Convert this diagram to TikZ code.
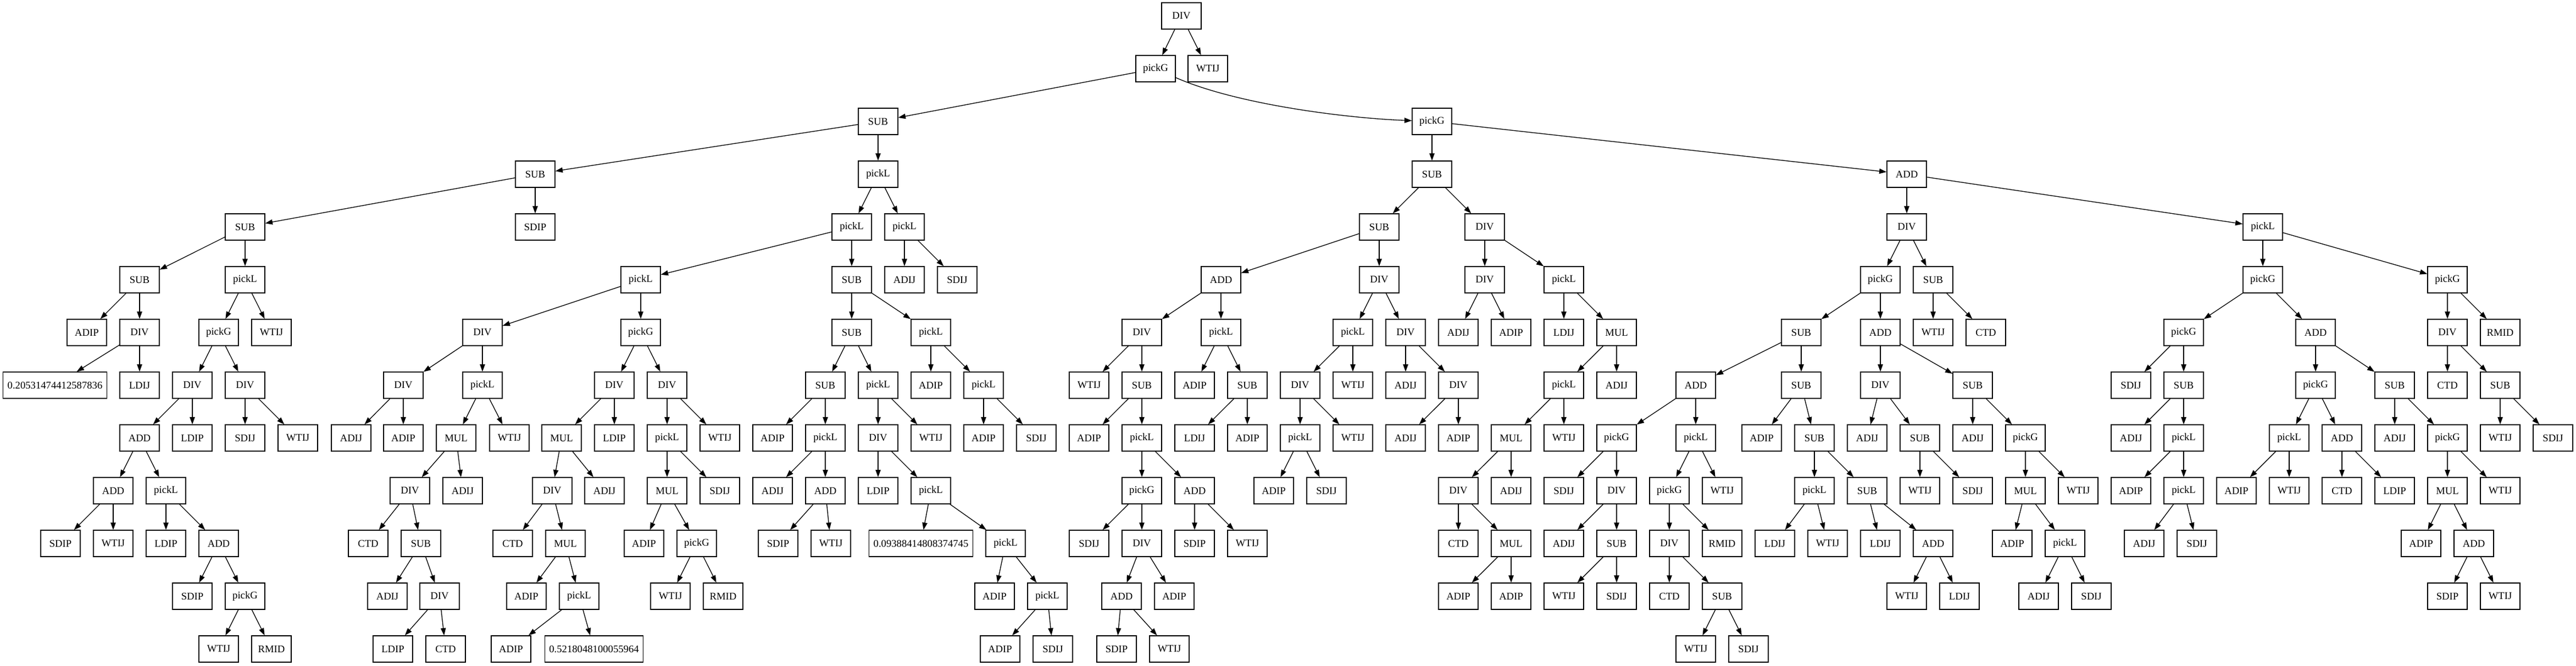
\documentclass[tikz,border=0pt]{standalone}
\usepackage{fontspec}
\setmainfont{Liberation Serif}
\usetikzlibrary{arrows.meta}

\begin{document}
\begin{tikzpicture}
	[
	  x=0.75pt, y=-72pt,
	  box/.style={draw, rectangle, line width=1pt, minimum width=54pt, minimum height=36pt,
	    inner xsep=6pt, inner ysep=4pt, font=\fontsize{14}{16}\selectfont},
	  line width=1pt,
	]
	\useasboundingbox (0,-0.3021) rectangle (4688,12.3125);
	\node (0) [box] at (2150,0) {DIV};
	\node (1) [box] at (2103,1) {pickG};
	\node (236) [box] at (2198,1) {WTIJ};
	\node (2) [box] at (1598,2) {SUB};
	\node (97) [box] at (2606,2) {pickG};
	% left half
	\node (3) [box] at (974,3) {SUB};
	\node (4) [box] at (446,4) {SUB};
	\node (5) [box] at (254,5) {SUB};
	\node (6) [box] at (158,6) {ADIP};
	\node (7) [box] at (254,6) {DIV};
	\node (8) [box] at (100,7) {0.20531474412587836};
	\node (9) [box] at (254,7) {LDIJ};
	\node (10) [box] at (446,5) {pickL};
	\node (11) [box] at (398,6) {pickG};
	\node (12) [box] at (350,7) {DIV};
	\node (13) [box] at (254,8) {ADD};
	\node (14) [box] at (206,9) {ADD};
	\node (15) [box] at (110,10) {SDIP};
	\node (16) [box] at (206,10) {WTIJ};
	\node (17) [box] at (302,9) {pickL};
	\node (18) [box] at (302,10) {LDIP};
	\node (19) [box] at (398,10) {ADD};
	\node (20) [box] at (350,11) {SDIP};
	\node (21) [box] at (446,11) {pickG};
	\node (22) [box] at (398,12) {WTIJ};
	\node (23) [box] at (494,12) {RMID};
	\node (24) [box] at (350,8) {LDIP};
	\node (25) [box] at (446,7) {DIV};
	\node (26) [box] at (446,8) {SDIJ};
	\node (27) [box] at (542,8) {WTIJ};
	\node (28) [box] at (494,6) {WTIJ};
	\node (29) [box] at (974,4) {SDIP};
	\node (30) [box] at (1598,3) {pickL};
	\node (31) [box] at (1550,4) {pickL};
	\node (32) [box] at (1166,5) {pickL};
	\node (33) [box] at (878,6) {DIV};
	\node (34) [box] at (734,7) {DIV};
	\node (35) [box] at (639,8) {ADIJ};
	\node (36) [box] at (734,8) {ADIP};
	\node (37) [box] at (878,7) {pickL};
	\node (38) [box] at (830,8) {MUL};
	\node (39) [box] at (746,9) {DIV};
	\node (40) [box] at (670,10) {CTD};
	\node (41) [box] at (766,10) {SUB};
	\node (42) [box] at (705,11) {ADIJ};
	\node (43) [box] at (800,11) {DIV};
	\node (44) [box] at (715,12) {LDIP};
	\node (45) [box] at (811,12) {CTD};
	\node (46) [box] at (842,9) {ADIJ};
	\node (47) [box] at (927,8) {WTIJ};
	\node (48) [box] at (1166,6) {pickG};
	\node (49) [box] at (1118,7) {DIV};
	\node (50) [box] at (1022,8) {MUL};
	\node (51) [box] at (1005,9) {DIV};
	\node (52) [box] at (933,10) {CTD};
	\node (53) [box] at (1029,10) {MUL};
	\node (54) [box] at (958,11) {ADIP};
	\node (55) [box] at (1054,11) {pickL};
	\node (56) [box] at (930,12) {ADIP};
	\node (57) [box] at (1081,12) {0.5218048100055964};
	\node (58) [box] at (1100,9) {ADIJ};
	\node (59) [box] at (1118,8) {LDIP};
	\node (60) [box] at (1214,7) {DIV};
	\node (61) [box] at (1214,8) {pickL};
	\node (62) [box] at (1214,9) {MUL};
	\node (63) [box] at (1172,10) {ADIP};
	\node (64) [box] at (1268,10) {pickG};
	\node (65) [box] at (1220,11) {WTIJ};
	\node (66) [box] at (1316,11) {RMID};
	\node (67) [box] at (1310,9) {SDIJ};
	\node (68) [box] at (1310,8) {WTIJ};
	\node (69) [box] at (1550,5) {SUB};
	\node (70) [box] at (1550,6) {SUB};
	\node (71) [box] at (1502,7) {SUB};
	\node (72) [box] at (1406,8) {ADIP};
	\node (73) [box] at (1502,8) {pickL};
	\node (74) [box] at (1406,9) {ADIJ};
	\node (75) [box] at (1502,9) {ADD};
	\node (76) [box] at (1416,10) {SDIP};
	\node (77) [box] at (1512,10) {WTIJ};
	\node (78) [box] at (1598,7) {pickL};
	\node (79) [box] at (1598,8) {DIV};
	\node (80) [box] at (1598,9) {LDIP};
	\node (81) [box] at (1694,9) {pickL};
	\node (82) [box] at (1676,10) {0.09388414808374745};
	\node (83) [box] at (1830,10) {pickL};
	\node (84) [box] at (1810,11) {ADIP};
	\node (85) [box] at (1906,11) {pickL};
	\node (86) [box] at (1820,12) {ADIP};
	\node (87) [box] at (1916,12) {SDIJ};
	\node (88) [box] at (1694,8) {WTIJ};
	\node (89) [box] at (1694,6) {pickL};
	\node (90) [box] at (1694,7) {ADIP};
	\node (91) [box] at (1790,7) {pickL};
	\node (92) [box] at (1790,8) {ADIP};
	\node (93) [box] at (1886,8) {SDIJ};
	\node (94) [box] at (1646,4) {pickL};
	\node (95) [box] at (1646,5) {ADIJ};
	\node (96) [box] at (1742,5) {SDIJ};
	% right half
	\node (98) [box] at (2606,3) {SUB};
	\node (99) [box] at (2510,4) {SUB};
	\node (100) [box] at (2222,5) {ADD};
	\node (101) [box] at (2078,6) {DIV};
	\node (102) [box] at (1982,7) {WTIJ};
	\node (103) [box] at (2078,7) {SUB};
	\node (104) [box] at (1982,8) {ADIP};
	\node (105) [box] at (2078,8) {pickL};
	\node (106) [box] at (2078,9) {pickG};
	\node (107) [box] at (1982,10) {SDIJ};
	\node (108) [box] at (2078,10) {DIV};
	\node (109) [box] at (2041,11) {ADD};
	\node (110) [box] at (2032,12) {SDIP};
	\node (111) [box] at (2128,12) {WTIJ};
	\node (112) [box] at (2137,11) {ADIP};
	\node (113) [box] at (2174,9) {ADD};
	\node (114) [box] at (2174,10) {SDIP};
	\node (115) [box] at (2270,10) {WTIJ};
	\node (116) [box] at (2222,6) {pickL};
	\node (117) [box] at (2174,7) {ADIP};
	\node (118) [box] at (2270,7) {SUB};
	\node (119) [box] at (2174,8) {LDIJ};
	\node (120) [box] at (2270,8) {ADIP};
	\node (121) [box] at (2510,5) {DIV};
	\node (122) [box] at (2462,6) {pickL};
	\node (123) [box] at (2366,7) {DIV};
	\node (124) [box] at (2366,8) {pickL};
	\node (125) [box] at (2318,9) {ADIP};
	\node (126) [box] at (2414,9) {SDIJ};
	\node (127) [box] at (2462,8) {WTIJ};
	\node (128) [box] at (2462,7) {WTIJ};
	\node (129) [box] at (2558,6) {DIV};
	\node (130) [box] at (2558,7) {ADIJ};
	\node (131) [box] at (2654,7) {DIV};
	\node (132) [box] at (2558,8) {ADIJ};
	\node (133) [box] at (2654,8) {ADIP};
	\node (134) [box] at (2702,4) {DIV};
	\node (135) [box] at (2702,5) {DIV};
	\node (136) [box] at (2654,6) {ADIJ};
	\node (137) [box] at (2750,6) {ADIP};
	\node (138) [box] at (2846,5) {pickL};
	\node (139) [box] at (2846,6) {LDIJ};
	\node (140) [box] at (2942,6) {MUL};
	\node (141) [box] at (2846,7) {pickL};
	\node (142) [box] at (2750,8) {MUL};
	\node (143) [box] at (2654,9) {DIV};
	\node (144) [box] at (2654,10) {CTD};
	\node (145) [box] at (2750,10) {MUL};
	\node (146) [box] at (2654,11) {ADIP};
	\node (147) [box] at (2750,11) {ADIP};
	\node (148) [box] at (2750,9) {ADIJ};
	\node (149) [box] at (2846,8) {WTIJ};
	\node (150) [box] at (2942,7) {ADIJ};
	\node (151) [box] at (3470,3) {ADD};
	\node (152) [box] at (3470,4) {DIV};
	\node (153) [box] at (3422,5) {pickG};
	\node (154) [box] at (3278,6) {SUB};
	\node (155) [box] at (3086,7) {ADD};
	\node (156) [box] at (2942,8) {pickG};
	\node (157) [box] at (2846,9) {SDIJ};
	\node (158) [box] at (2942,9) {DIV};
	\node (159) [box] at (2846,10) {ADIJ};
	\node (160) [box] at (2942,10) {SUB};
	\node (161) [box] at (2846,11) {WTIJ};
	\node (162) [box] at (2942,11) {SDIJ};
	\node (163) [box] at (3086,8) {pickL};
	\node (164) [box] at (3038,9) {pickG};
	\node (165) [box] at (3038,10) {DIV};
	\node (166) [box] at (3038,11) {CTD};
	\node (167) [box] at (3134,11) {SUB};
	\node (168) [box] at (3086,12) {WTIJ};
	\node (169) [box] at (3182,12) {SDIJ};
	\node (170) [box] at (3134,10) {RMID};
	\node (171) [box] at (3134,9) {WTIJ};
	\node (172) [box] at (3278,7) {SUB};
	\node (173) [box] at (3206,8) {ADIP};
	\node (174) [box] at (3302,8) {SUB};
	\node (175) [box] at (3302,9) {pickL};
	\node (176) [box] at (3230,10) {LDIJ};
	\node (177) [box] at (3326,10) {WTIJ};
	\node (178) [box] at (3398,9) {SUB};
	\node (179) [box] at (3422,10) {LDIJ};
	\node (180) [box] at (3518,10) {ADD};
	\node (181) [box] at (3470,11) {WTIJ};
	\node (182) [box] at (3566,11) {LDIJ};
	\node (183) [box] at (3422,6) {ADD};
	\node (184) [box] at (3422,7) {DIV};
	\node (185) [box] at (3398,8) {ADIJ};
	\node (186) [box] at (3494,8) {SUB};
	\node (187) [box] at (3494,9) {WTIJ};
	\node (188) [box] at (3590,9) {SDIJ};
	\node (189) [box] at (3590,7) {SUB};
	\node (190) [box] at (3590,8) {ADIJ};
	\node (191) [box] at (3686,8) {pickG};
	\node (192) [box] at (3686,9) {MUL};
	\node (193) [box] at (3662,10) {ADIP};
	\node (194) [box] at (3758,10) {pickL};
	\node (195) [box] at (3710,11) {ADIJ};
	\node (196) [box] at (3806,11) {SDIJ};
	\node (197) [box] at (3782,9) {WTIJ};
	\node (198) [box] at (3518,5) {SUB};
	\node (199) [box] at (3518,6) {WTIJ};
	\node (200) [box] at (3614,6) {CTD};
	\node (201) [box] at (4118,4) {pickL};
	\node (202) [box] at (4118,5) {pickG};
	\node (203) [box] at (3974,6) {pickG};
	\node (204) [box] at (3878,7) {SDIJ};
	\node (205) [box] at (3974,7) {SUB};
	\node (206) [box] at (3878,8) {ADIJ};
	\node (207) [box] at (3974,8) {pickL};
	\node (208) [box] at (3878,9) {ADIP};
	\node (209) [box] at (3974,9) {pickL};
	\node (210) [box] at (3902,10) {ADIJ};
	\node (211) [box] at (3998,10) {SDIJ};
	\node (212) [box] at (4214,6) {ADD};
	\node (213) [box] at (4214,7) {pickG};
	\node (214) [box] at (4166,8) {pickL};
	\node (215) [box] at (4070,9) {ADIP};
	\node (216) [box] at (4166,9) {WTIJ};
	\node (217) [box] at (4262,8) {ADD};
	\node (218) [box] at (4262,9) {CTD};
	\node (219) [box] at (4358,9) {LDIP};
	\node (220) [box] at (4358,7) {SUB};
	\node (221) [box] at (4358,8) {ADIJ};
	\node (222) [box] at (4454,8) {pickG};
	\node (223) [box] at (4454,9) {MUL};
	\node (224) [box] at (4406,10) {ADIP};
	\node (225) [box] at (4502,10) {ADD};
	\node (226) [box] at (4454,11) {SDIP};
	\node (227) [box] at (4550,11) {WTIJ};
	\node (228) [box] at (4550,9) {WTIJ};
	\node (229) [box] at (4454,5) {pickG};
	\node (230) [box] at (4454,6) {DIV};
	\node (231) [box] at (4454,7) {CTD};
	\node (232) [box] at (4550,7) {SUB};
	\node (233) [box] at (4550,8) {WTIJ};
	\node (234) [box] at (4646,8) {SDIJ};
	\node (235) [box] at (4550,6) {RMID};
	\path [-{Triangle[length=10pt,width=7pt]}]
	  (0) edge (1) edge (236)
	  (1) edge (2)
	  (2) edge (3) edge (30)
	  (3) edge (4) edge (29)
	  (4) edge (5) edge (10)
	  (5) edge (6) edge (7)
	  (7) edge (8) edge (9)
	  (10) edge (11) edge (28)
	  (11) edge (12) edge (25)
	  (12) edge (13) edge (24)
	  (13) edge (14) edge (17)
	  (14) edge (15) edge (16)
	  (17) edge (18) edge (19)
	  (19) edge (20) edge (21)
	  (21) edge (22) edge (23)
	  (25) edge (26) edge (27)
	  (30) edge (31) edge (94)
	  (31) edge (32) edge (69)
	  (32) edge (33) edge (48)
	  (33) edge (34) edge (37)
	  (34) edge (35) edge (36)
	  (37) edge (38) edge (47)
	  (38) edge (39) edge (46)
	  (39) edge (40) edge (41)
	  (41) edge (42) edge (43)
	  (43) edge (44) edge (45)
	  (48) edge (49) edge (60)
	  (49) edge (50) edge (59)
	  (50) edge (51) edge (58)
	  (51) edge (52) edge (53)
	  (53) edge (54) edge (55)
	  (55) edge (56) edge (57)
	  (60) edge (61) edge (68)
	  (61) edge (62) edge (67)
	  (62) edge (63) edge (64)
	  (64) edge (65) edge (66)
	  (69) edge (70) edge (89)
	  (70) edge (71) edge (78)
	  (71) edge (72) edge (73)
	  (73) edge (74) edge (75)
	  (75) edge (76) edge (77)
	  (78) edge (79) edge (88)
	  (79) edge (80) edge (81)
	  (81) edge (82) edge (83)
	  (83) edge (84) edge (85)
	  (85) edge (86) edge (87)
	  (89) edge (90) edge (91)
	  (91) edge (92) edge (93)
	  (94) edge (95) edge (96)
	  (97) edge (98) edge (151)
	  (98) edge (99) edge (134)
	  (99) edge (100) edge (121)
	  (100) edge (101) edge (116)
	  (101) edge (102) edge (103)
	  (103) edge (104) edge (105)
	  (105) edge (106) edge (113)
	  (106) edge (107) edge (108)
	  (108) edge (109) edge (112)
	  (109) edge (110) edge (111)
	  (113) edge (114) edge (115)
	  (116) edge (117) edge (118)
	  (118) edge (119) edge (120)
	  (121) edge (122) edge (129)
	  (122) edge (123) edge (128)
	  (123) edge (124) edge (127)
	  (124) edge (125) edge (126)
	  (129) edge (130) edge (131)
	  (131) edge (132) edge (133)
	  (134) edge (135) edge (138)
	  (135) edge (136) edge (137)
	  (138) edge (139) edge (140)
	  (140) edge (141) edge (150)
	  (141) edge (142) edge (149)
	  (142) edge (143) edge (148)
	  (143) edge (144) edge (145)
	  (145) edge (146) edge (147)
	  (151) edge (152) edge (201)
	  (152) edge (153) edge (198)
	  (153) edge (154) edge (183)
	  (154) edge (155) edge (172)
	  (155) edge (156) edge (163)
	  (156) edge (157) edge (158)
	  (158) edge (159) edge (160)
	  (160) edge (161) edge (162)
	  (163) edge (164) edge (171)
	  (164) edge (165) edge (170)
	  (165) edge (166) edge (167)
	  (167) edge (168) edge (169)
	  (172) edge (173) edge (174)
	  (174) edge (175) edge (178)
	  (175) edge (176) edge (177)
	  (178) edge (179) edge (180)
	  (180) edge (181) edge (182)
	  (183) edge (184) edge (189)
	  (184) edge (185) edge (186)
	  (186) edge (187) edge (188)
	  (189) edge (190) edge (191)
	  (191) edge (192) edge (197)
	  (192) edge (193) edge (194)
	  (194) edge (195) edge (196)
	  (198) edge (199) edge (200)
	  (201) edge (202) edge (229)
	  (202) edge (203) edge (212)
	  (203) edge (204) edge (205)
	  (205) edge (206) edge (207)
	  (207) edge (208) edge (209)
	  (209) edge (210) edge (211)
	  (212) edge (213) edge (220)
	  (213) edge (214) edge (217)
	  (214) edge (215) edge (216)
	  (217) edge (218) edge (219)
	  (220) edge (221) edge (222)
	  (222) edge (223) edge (228)
	  (223) edge (224) edge (225)
	  (225) edge (226) edge (227)
	  (229) edge (230) edge (235)
	  (230) edge (231) edge (232)
	  (232) edge (233) edge (234)
	  ;
	\draw [-{Triangle[length=10pt,width=7pt]}]
	  (1) .. controls (2250,1.677) and (2450,1.9375) .. (97);
\end{tikzpicture}
\end{document}
